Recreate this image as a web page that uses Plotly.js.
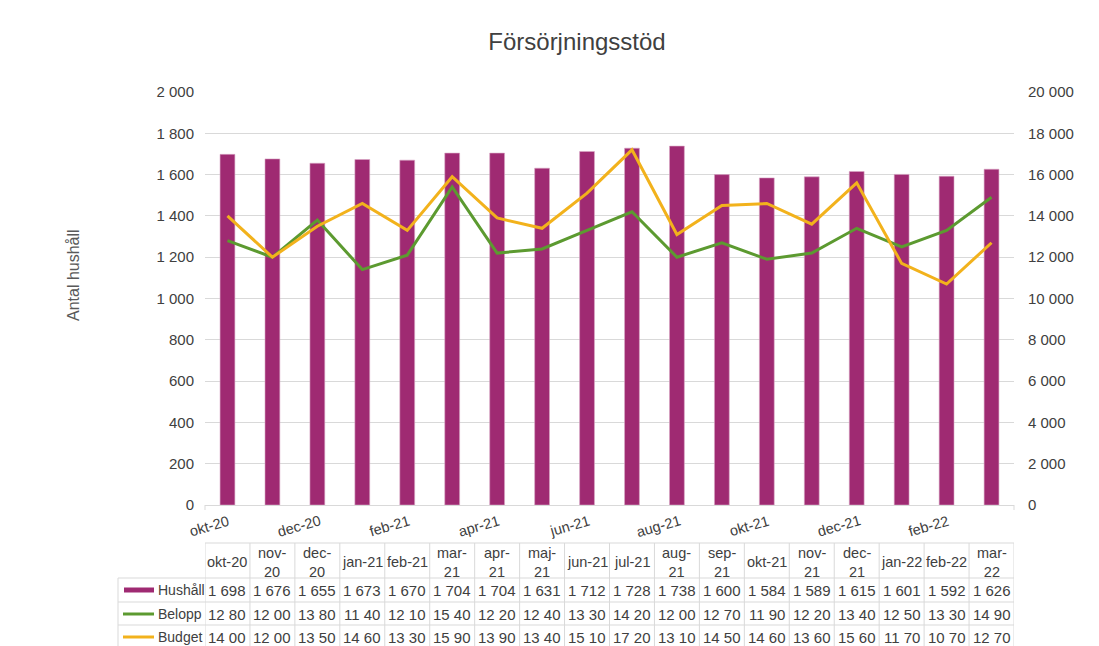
<!DOCTYPE html>
<html>
<head>
<meta charset="utf-8">
<script src="https://cdn.plot.ly/plotly-3.0.1.min.js"></script>
<style>html,body{margin:0;padding:0;background:#fff;}#chart{width:1099px;height:646px;}</style>
</head>
<body>
<div id="chart"></div>
<script>
const months = ['okt-20','nov-20','dec-20','jan-21','feb-21','mar-21','apr-21','maj-21','jun-21','jul-21','aug-21','sep-21','okt-21','nov-21','dec-21','jan-22','feb-22','mar-22'];
const headerLabels = ['okt-20','nov-<br>20','dec-<br>20','jan-21','feb-21','mar-<br>21','apr-<br>21','maj-<br>21','jun-21','jul-21','aug-<br>21','sep-<br>21','okt-21','nov-<br>21','dec-<br>21','jan-22','feb-22','mar-<br>22'];
const hushall = [1698,1676,1655,1673,1670,1704,1704,1631,1712,1728,1738,1600,1584,1589,1615,1601,1592,1626];
const belopp = [12800,12000,13800,11400,12100,15400,12200,12400,13300,14200,12000,12700,11900,12200,13400,12500,13300,14900];
const budget = [14000,12000,13500,14600,13300,15900,13900,13400,15100,17200,13100,14500,14600,13600,15600,11700,10700,12700];
const leftTicks = [0,200,400,600,800,1000,1200,1400,1600,1800,2000];
const rightTicks = [0,2000,4000,6000,8000,10000,12000,14000,16000,18000,20000];
const seriesNames = ['Hushåll','Belopp','Budget'];

const PURPLE = '#9F2A72', GREEN = '#5C9A30', YELLOW = '#F2B21C';
const TXT = '#404040', GRID = '#d9d9d9';
const FONT = 'Liberation Sans, Arial, sans-serif';

function fmt(v){ const s = String(v); return s.length > 3 ? s.slice(0, s.length-3) + '\u00a0' + s.slice(-3) : s; }
function fmtCut(v){ return fmt(v).slice(0,-1); }

// plot geometry (pixels)
const T = 92, B = 505, L = 205, R = 1014;
const py = p => (B - p) / (B - T);
const px = p => (p - L) / (R - L);

const traces = [
  {type:'bar', x: months, y: hushall, name:'Hushåll', marker:{color:PURPLE, line:{color:'#d8a6c4', width:0.6}}, width:0.33, hoverinfo:'skip'},
  {type:'scatter', mode:'lines', x: months, y: belopp, name:'Belopp', yaxis:'y2', line:{color:GREEN, width:3}, hoverinfo:'skip'},
  {type:'scatter', mode:'lines', x: months, y: budget, name:'Budget', yaxis:'y2', line:{color:YELLOW, width:3}, hoverinfo:'skip'}
];

const annotations = [];
const shapes = [];

// y axis title
annotations.push({xref:'paper', yref:'paper', x: px(73), y: py(275), xanchor:'center', yanchor:'middle', text:'Antal hushåll', textangle:-90, showarrow:false,
  font:{family:FONT, size:16, color:'#595959'}});

// rotated x axis labels (every second month)
months.forEach((m,i)=>{
  if (i % 2 === 0) annotations.push({xref:'x', yref:'paper', x: i-0.4, y: py(526), xanchor:'center', yanchor:'middle', text:m, textangle:-16, showarrow:false,
    font:{family:FONT, size:14.5, color:TXT}});
});

// table
const rowTop = [543, 578, 602, 625, 649];
const rowCenters = [590, 614, 637];
const rowsData = [hushall.map(fmt), belopp.map(fmtCut), budget.map(fmtCut)];
months.forEach((m,i)=>{
  annotations.push({xref:'x', yref:'paper', x:i, y: py(562), text: headerLabels[i], showarrow:false,
    font:{family:FONT, size:14.5, color:TXT}, xanchor:'center', yanchor:'middle'});
  rowsData.forEach((row,r)=>{
    annotations.push({xref:'x', yref:'paper', x:i, y: py(rowCenters[r]), text: row[i], showarrow:false,
      font:{family:FONT, size:15, color:TXT}, xanchor:'center', yanchor:'middle'});
  });
});
// vertical lines in table
for (let i = 0; i <= months.length; i++) {
  shapes.push({type:'line', xref:'x', yref:'paper', x0:i-0.5, x1:i-0.5, y0: py(rowTop[0]), y1: py(660), line:{color:GRID, width:1}});
}
// horizontal lines
shapes.push({type:'line', xref:'paper', yref:'paper', x0:0, x1:1, y0:py(rowTop[0]), y1:py(rowTop[0]), line:{color:GRID, width:1}});
for (let r = 1; r < 4; r++) {
  shapes.push({type:'line', xref:'paper', yref:'paper', x0:px(118), x1:1, y0:py(rowTop[r]), y1:py(rowTop[r]), line:{color:GRID, width:1}});
}
shapes.push({type:'line', xref:'paper', yref:'paper', x0:px(118), x1:px(118), y0:py(rowTop[1]), y1:py(660), line:{color:GRID, width:1}});
// legend swatches
const swColors = [PURPLE, GREEN, YELLOW];
seriesNames.forEach((n,r)=>{
  const yc = rowCenters[r];
  if (r === 0) {
    shapes.push({type:'rect', xref:'paper', yref:'paper', x0:px(124), x1:px(154), y0:py(yc+2.5), y1:py(yc-2.5), fillcolor:PURPLE, line:{width:0}});
  } else {
    shapes.push({type:'line', xref:'paper', yref:'paper', x0:px(123), x1:px(154), y0:py(yc), y1:py(yc), line:{color:swColors[r], width:3}});
  }
  annotations.push({xref:'paper', yref:'paper', x:px(156), y:py(yc), text:n, showarrow:false, xanchor:'left', yanchor:'middle',
    font:{family:FONT, size:14, color:TXT}});
});
// small axis end ticks
shapes.push({type:'line', xref:'paper', yref:'paper', x0:0, x1:0, y0:0, y1:py(510), line:{color:GRID, width:1}});
shapes.push({type:'line', xref:'paper', yref:'paper', x0:1, x1:1, y0:0, y1:py(510), line:{color:GRID, width:1}});

const layout = {
  width:1099, height:646,
  margin:{l:L, r:1099-R, t:T, b:646-B, pad:0},
  paper_bgcolor:'#fff', plot_bgcolor:'#fff',
  showlegend:false,
  title:{text:'Försörjningsstöd', font:{family:'Liberation Sans Narrow, Arial Narrow, sans-serif', size:24, color:TXT},
    xref:'paper', x: px(577), xanchor:'center', yref:'container', y: 1-42/646, yanchor:'middle'},
  xaxis:{type:'category', range:[-0.5, months.length-0.5], showticklabels:false, ticks:'', showgrid:false,
    showline:true, linecolor:GRID, linewidth:1, zeroline:false, fixedrange:true},
  yaxis:{range:[0,2000], tickvals:leftTicks, ticktext:leftTicks.map(fmt), showgrid:true, gridcolor:GRID, gridwidth:1,
    zeroline:false, showline:false, ticks:'', ticklabelstandoff:10, tickfont:{family:FONT, size:15, color:TXT}, fixedrange:true},
  yaxis2:{range:[0,20000], overlaying:'y', side:'right', tickvals:rightTicks, ticktext:rightTicks.map(fmt), showgrid:false,
    zeroline:false, showline:false, ticks:'', ticklabelstandoff:13, tickfont:{family:FONT, size:15, color:TXT}, fixedrange:true},
  annotations, shapes
};

Plotly.newPlot('chart', traces, layout, {staticPlot:true, displayModeBar:false});
</script>
</body>
</html>
